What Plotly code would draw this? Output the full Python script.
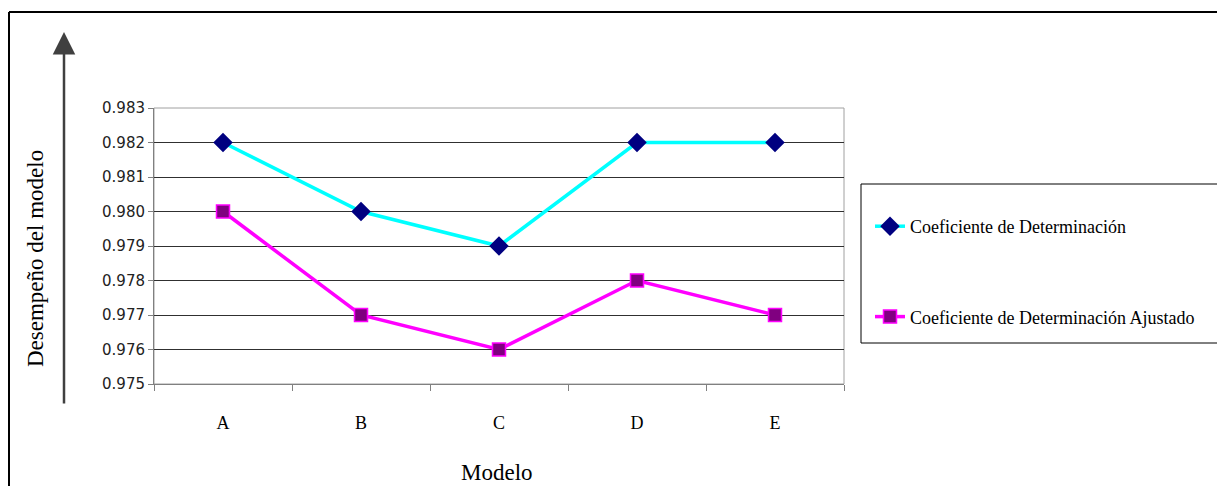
import plotly.graph_objects as go

modelos = ["A", "B", "C", "D", "E"]
coef_det = [0.982, 0.980, 0.979, 0.982, 0.982]
coef_det_ajust = [0.980, 0.977, 0.976, 0.978, 0.977]
serie_nombres = ["Coeficiente de Determinación", "Coeficiente de Determinación Ajustado"]
y_ticks = [0.975, 0.976, 0.977, 0.978, 0.979, 0.980, 0.981, 0.982, 0.983]
y_tick_text = ["0.975", "0.976", "0.977", "0.978", "0.979", "0.980", "0.981", "0.982", "0.983"]

OFF = 8  # page body margin
W, H = 1225 - OFF, 486 - OFF
L, R, T, B = 154 - OFF, 844 - OFF, 108 - OFF, 384 - OFF
pw, ph = R - L, B - T

def px(x):
    return (x - OFF - L) / pw

def py(y):
    return (B - (y - OFF)) / ph

serif = "Liberation Serif"

fig = go.Figure()
fig.add_trace(go.Scatter(
    x=modelos, y=coef_det, name=serie_nombres[0], mode="lines+markers",
    line=dict(color="#00FFFF", width=3.5),
    marker=dict(symbol="diamond", size=15, color="#000080", line=dict(width=0)),
    legendgroup="g1",
))
fig.add_trace(go.Scatter(
    x=modelos, y=coef_det_ajust, name=serie_nombres[1], mode="lines+markers",
    line=dict(color="#FF00FF", width=3.5),
    marker=dict(symbol="square", size=13, color="#800080", line=dict(width=1.5, color="#FF00FF")),
    legendgroup="g2",
))

shapes = [
    # outer frame (left and top edges)
    dict(type="line", xref="paper", yref="paper", x0=px(9), x1=px(9), y0=py(12), y1=py(490),
         line=dict(color="black", width=2)),
    dict(type="line", xref="paper", yref="paper", x0=px(9), x1=px(1221), y0=py(12), y1=py(12),
         line=dict(color="black", width=2)),
    # legend box
    dict(type="rect", xref="paper", yref="paper", x0=px(861), x1=px(1218), y0=py(343), y1=py(184),
         line=dict(color="black", width=1), fillcolor="white", layer="below"),
    # plot area frame
    dict(type="rect", xref="paper", yref="paper", x0=0, x1=1, y0=0, y1=1,
         line=dict(color="#A0A0A0", width=1), layer="below"),
]

annotations = [
    dict(text="Desempeño del modelo", xref="paper", yref="paper", x=px(35), y=py(259),
         xanchor="center", yanchor="middle",
         textangle=-90, showarrow=False, font=dict(family=serif, size=23, color="black")),
    dict(text="Modelo", xref="paper", yref="paper", x=px(497), y=py(472),
         xanchor="center", yanchor="middle",
         showarrow=False, font=dict(family=serif, size=23, color="black")),
    dict(text="", xref="paper", yref="paper", x=px(64), y=py(32), ax=0, ay=373,
         showarrow=True, arrowhead=2, arrowsize=1.8, arrowwidth=2.5, arrowcolor="#404040"),
]

fig.update_layout(
    width=W, height=H,
    margin=dict(l=L, r=W - R, t=T, b=H - B),
    paper_bgcolor="white", plot_bgcolor="white",
    shapes=shapes, annotations=annotations,
    showlegend=True,
    legend=dict(x=px(870), y=py(208), xanchor="left", yanchor="top",
                bgcolor="rgba(0,0,0,0)", borderwidth=0,
                font=dict(family=serif, size=18, color="black"),
                tracegroupgap=64, traceorder="grouped"),
    xaxis=dict(type="category", range=[-0.5, 4.5], showgrid=False, showline=True,
               linecolor="#808080", linewidth=1, ticks="outside", tickson="boundaries",
               ticklen=6, tickcolor="#808080", ticklabelstandoff=22,
               tickfont=dict(family=serif, size=18, color="black"), zeroline=False),
    yaxis=dict(range=[0.975, 0.983], tickvals=y_ticks, ticktext=y_tick_text,
               showgrid=True, gridcolor="#303030", gridwidth=1, showline=True,
               linecolor="#808080", linewidth=1, ticks="outside", ticklen=5,
               tickcolor="#808080", tickfont=dict(family="DejaVu Sans", size=15, color="#222222"),
               zeroline=False),
)

fig.write_html("out.html")
